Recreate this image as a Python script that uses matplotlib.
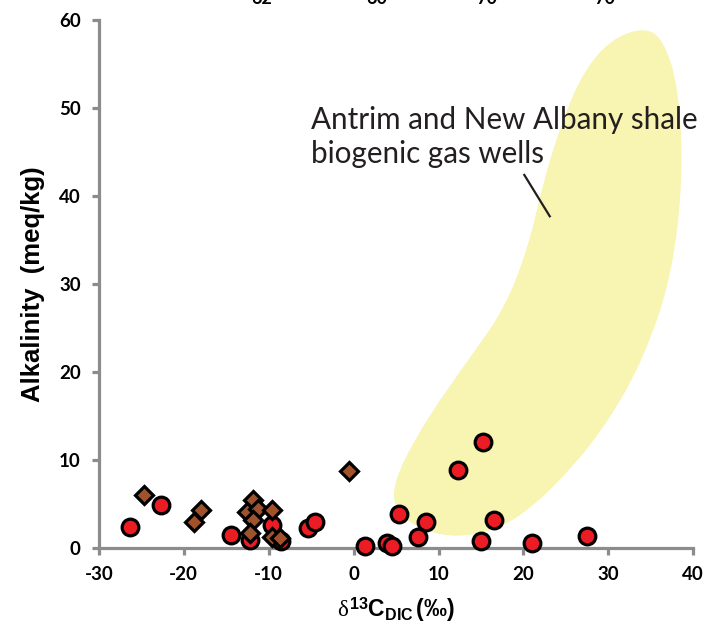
import numpy as np
import matplotlib
matplotlib.use("Agg")
import matplotlib.pyplot as plt
from matplotlib.path import Path
from matplotlib.patches import PathPatch

# Red circles
circ_x = [-26.3, -22.7, -14.4, -12.2, -9.6, -8.6, -5.4, -4.6, 1.3, 3.9, 4.5, 5.3,
          7.6, 8.5, 12.3, 15.2, 15.0, 16.5, 21.0, 27.5]
circ_y = [2.4, 4.9, 1.5, 0.9, 2.6, 0.8, 2.3, 3.0, 0.2, 0.6, 0.2, 3.9,
          1.3, 3.0, 8.9, 12.0, 0.8, 3.2, 0.6, 1.4]

# Brown diamonds
diam_x = [-24.7, -18.0, -18.8, -11.9, -12.5, -11.3, -11.8, -12.2, -9.6, -9.6, -8.7, -0.5]
diam_y = [6.0, 4.3, 3.0, 5.5, 4.1, 4.4, 3.2, 1.7, 4.3, 1.3, 1.1, 8.7]

# Outline of the shaded field (Antrim / New Albany biogenic gas wells)
field_x = [34.2, 30.3, 27.1, 24.7, 22.4, 20.5, 17.6, 13.7, 7.8, 4.3, 5.5, 9.8,
           14.6, 19.6, 25.5, 30.3, 34.2, 37.4, 38.8, 38.3, 36.5]
field_y = [59.2, 57.8, 54.2, 48.9, 41.9, 33.9, 26.9, 21.7, 13.5, 6.7, 3.4, 1.4,
           1.4, 3.4, 8.8, 14.8, 21.7, 30.6, 41.9, 52.2, 57.8]

x_ticks = [-30, -20, -10, 0, 10, 20, 30, 40]
y_ticks = [0, 10, 20, 30, 40, 50, 60]

plt.rcParams['mathtext.fontset'] = 'custom'
plt.rcParams['mathtext.rm'] = 'Liberation Sans:bold'
plt.rcParams['mathtext.bf'] = 'Liberation Sans:bold'
plt.rcParams['mathtext.it'] = 'Liberation Serif'

fig = plt.figure(figsize=(7.06, 6.27), dpi=100, facecolor='white')
ax = fig.add_axes([0.140, 0.126, 0.842, 0.842])

# smooth closed outline: quadratic B-spline through edge midpoints
pts = np.column_stack([field_x, field_y])
n = len(pts)
mids = (pts + np.roll(pts, -1, axis=0)) / 2
verts = [mids[-1]]
codes = [Path.MOVETO]
for i in range(n):
    verts += [pts[i], mids[i]]
    codes += [Path.CURVE3, Path.CURVE3]
ax.add_patch(PathPatch(Path(verts, codes), facecolor='#f8f4b2', edgecolor='none', zorder=1))

ax.plot(circ_x, circ_y, 'o', ms=12, mfc='#ec1c24', mec='black', mew=2.3, zorder=3, clip_on=False)
ax.plot(diam_x, diam_y, 'D', ms=9, mfc='#a0522d', mec='black', mew=2.3, zorder=4, clip_on=False)

# label + leader line
ax.text(-5.0, 46.7, 'Antrim and New Albany shale\nbiogenic gas wells', fontsize=21.3,
        family='Lato', color='#231f20', ha='left', va='center', linespacing=1.28, zorder=5)
ax.plot([20.1, 23.1], [42.4, 37.7], color='#231f20', lw=1.6, zorder=5)

ax.set_xlim(-30, 40)
ax.set_ylim(0, 60)
ax.set_xticks(x_ticks)
ax.set_yticks(y_ticks)
ax.set_xticklabels([str(v) for v in x_ticks], fontsize=13.5, fontweight='bold', family='Lato')
ax.set_yticklabels([str(v) for v in y_ticks], fontsize=13.5, fontweight='bold', family='Lato')

for side in ['top', 'right']:
    ax.spines[side].set_visible(False)
for side in ['left', 'bottom']:
    ax.spines[side].set_color('#8c8c8c')
    ax.spines[side].set_linewidth(2.3)
ax.tick_params(direction='out', length=5, width=2.3, color='#8c8c8c', pad=8)

ax.set_ylabel('Alkalinity  (meq/kg)', fontsize=18.5, fontweight='bold', family='Liberation Sans', labelpad=10)
ax.set_xlabel(r'$\delta^{\mathbf{13}}\mathbf{C}_{\mathbf{DIC}}\,\mathbf{(‰)}$', fontsize=16.5, labelpad=9)

# tick-label remnants of the panel above, cut by the top edge
for xp, s in [(262, '62'), (377, '60'), (487, '70'), (605, '70')]:
    fig.text(xp / 706, 1 - 4 / 627, s, fontsize=13, fontweight='bold', family='Lato',
             ha='center', va='baseline')

plt.savefig('out.png', dpi=100, facecolor='white')
plt.close()
